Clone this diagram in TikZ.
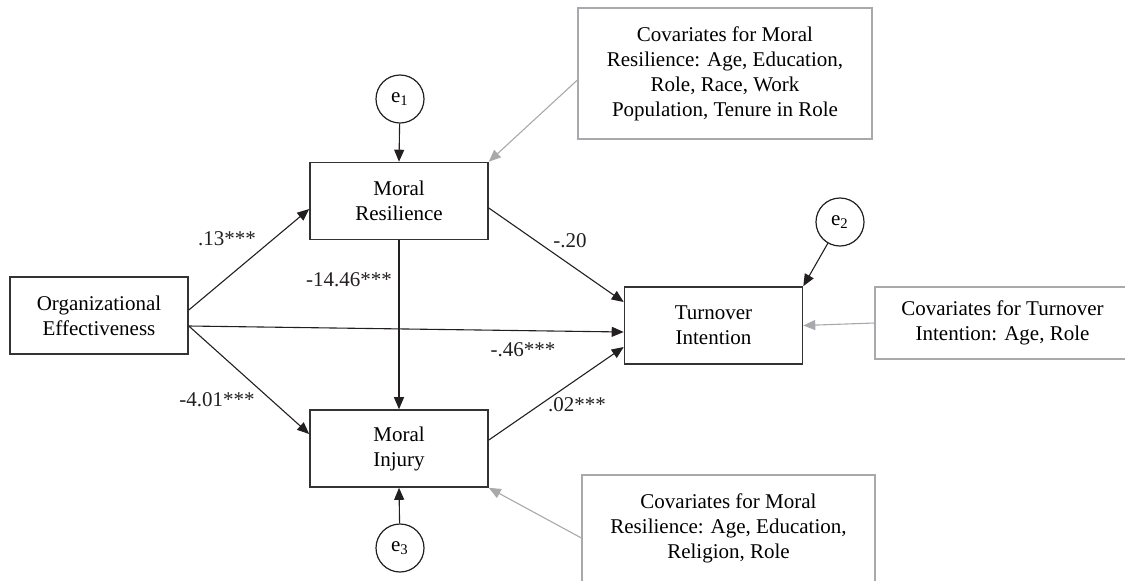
\documentclass[tikz,border=0pt]{standalone}
\usepackage{fontspec}
\setmainfont{Liberation Serif}
\usepackage{tikz}
\usetikzlibrary{arrows.meta, calc, positioning}
\definecolor{pathline}{HTML}{231F20}
\definecolor{boxline}{HTML}{333333}
\definecolor{covline}{HTML}{A7A9AC}
\newcommand{\semfont}{\fontsize{10.5}{12.5}\selectfont}
\tikzset{
  varbox/.style    = {draw=boxline, line width=0.8pt, fill=white,
                      minimum width=89pt, minimum height=38.5pt,
                      align=center, inner sep=2pt, font=\semfont},
  errnode/.style   = {circle, draw=pathline, line width=0.6pt, fill=white,
                      minimum size=24pt, inner sep=0pt, font=\semfont},
  covbox/.style    = {draw=covline, line width=0.6pt, fill=white,
                      align=center, inner sep=2pt, font=\semfont},
  patharrow/.style = {draw=pathline, line width=0.55pt,
                      -{Triangle[length=6pt, width=5pt]}},
  covarrow/.style  = {draw=covline, line width=0.55pt,
                      -{Triangle[length=6pt, width=5pt]}},
  coef/.style      = {font=\semfont, inner sep=1pt, text=pathline},
}

\begin{document}
\begin{tikzpicture}[x=0.5pt, y=-0.5pt]
    \useasboundingbox (0,0) rectangle (1125,580);
    % variables
    \node[varbox] (OE) at (99,315.5)   {Organizational\\Effectiveness};
    \node[varbox] (MR) at (399,201)    {Moral\\Resilience};
    \node[varbox] (MI) at (399,448.5)  {Moral\\Injury};
    \node[varbox] (TI) at (713.5,325.5) {Turnover\\Intention};
    % error terms
    \node[errnode] (e1) at (400,99)  {e\textsubscript{1}};
    \node[errnode] (e2) at (840,222) {e\textsubscript{2}};
    \node[errnode] (e3) at (400,548) {e\textsubscript{3}};
    % covariates
    \node[covbox, minimum width=147pt, minimum height=65.5pt] (covMR) at (725,73.5)
      {Covariates for Moral\\Resilience: Age, Education,\\Role, Race, Work\\Population, Tenure in Role};
    \node[covbox, minimum width=127.5pt, minimum height=36pt] (covTI) at (1002.5,323)
      {Covariates for Turnover\\Intention: Age, Role};
    \node[covbox, minimum width=146.5pt, minimum height=53.5pt] (covMI) at (728.5,528.5)
      {Covariates for Moral\\Resilience: Age, Education,\\Religion, Role};
    % paths
    \draw[patharrow] ($(OE.east)+(0,-5.5)$) -- ($(MR.west)+(0,8)$);
    \draw[patharrow] ($(OE.east)+(0,10.5)$) -- ($(MI.west)+(0,-14.5)$);
    \draw[patharrow] ($(OE.east)+(0,10.5)$) -- ($(TI.west)+(0,6.5)$);
    \draw[patharrow] (MR.south) -- (MI.north);
    \draw[patharrow] ($(MR.east)+(0,7)$) -- ($(TI.west)+(0,-23.5)$);
    \draw[patharrow] ($(MI.east)+(0,-8.5)$) -- ($(TI.west)+(0,21.5)$);
    \draw[patharrow] (e1) -- (MR.north);
    \draw[patharrow] (e2) -- (TI.north east);
    \draw[patharrow] (e3) -- (MI.south);
    \draw[covarrow] ($(covMR.west)+(0,6.5)$) -- (MR.north east);
    \draw[covarrow] (covTI.west) -- (TI.east);
    \draw[covarrow] ($(covMI.west)+(0,9.5)$) -- (MI.south east);
    % coefficients
    \node[coef] (c13)   at (227,239) {.13***};
    \node[coef] (c401)  at (217,400) {-4.01***};
    \node[coef] (c1446) at (349,280) {-14.46***};
    \node[coef] (c20)   at (570,241) {-.20};
    \node[coef] (c46)   at (523,350) {-.46***};
    \node[coef] (c02)   at (577,405) {.02***};
  \end{tikzpicture}
\end{document}
